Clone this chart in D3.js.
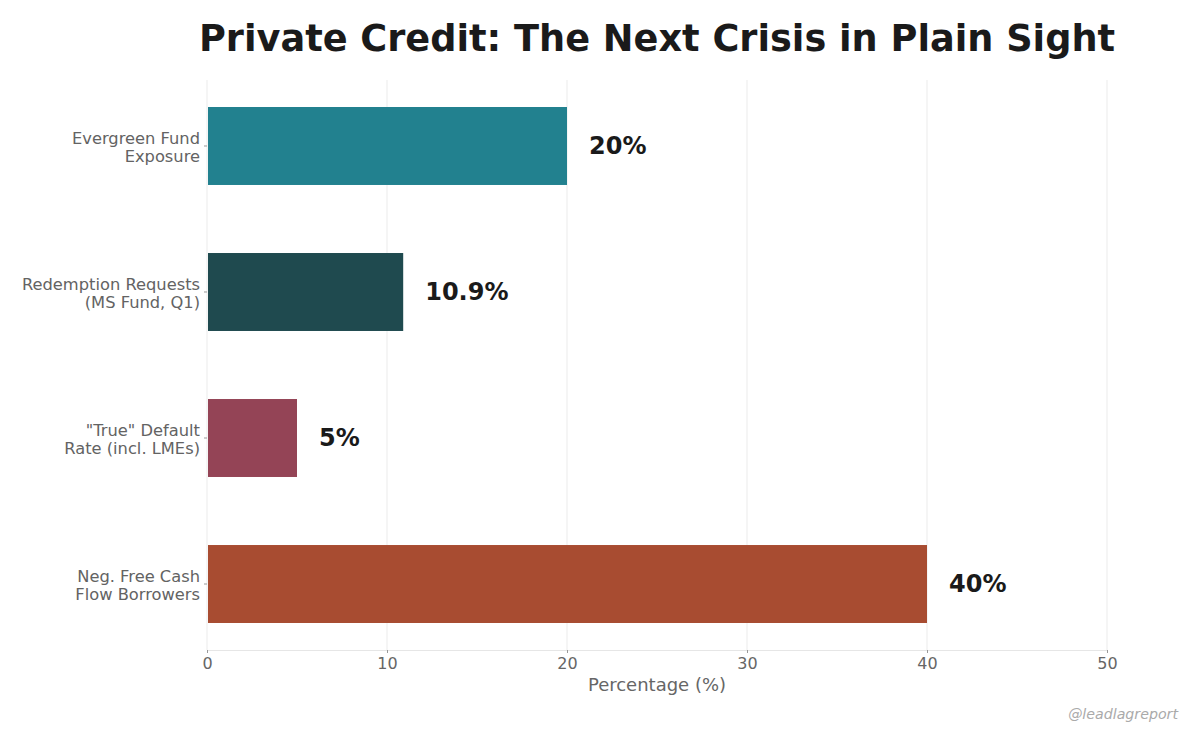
<!DOCTYPE html>
<html><head><meta charset="utf-8">
<script src="https://cdn.jsdelivr.net/npm/d3@7"></script>
<style>body{margin:0;background:#fff;}svg{display:block;font-family:"DejaVu Sans",sans-serif;}</style>
</head><body><svg id="c" width="1200" height="743"></svg>
<script>
const categories = [["Evergreen Fund","Exposure"],["Redemption Requests","(MS Fund, Q1)"],["\"True\" Default","Rate (incl. LMEs)"],["Neg. Free Cash","Flow Borrowers"]];
const values = [20, 10.9, 5, 40];
const valueLabels = ["20%","10.9%","5%","40%"];
const colors = ["#22818f","#1f4a4f","#944456","#a84c31"];
const xTicks = [0,10,20,30,40,50];

const svg = d3.select("#c");
const L=207,R=1107,T=80,B=650;
const x = d3.scaleLinear().domain([0,50]).range([L,R]);
const keys = categories.map(c=>c.join(" "));
const y = d3.scaleBand().domain(keys).range([T,B]).paddingInner(0.466).paddingOuter(0.185);

// grid
svg.append("g").selectAll("line").data(xTicks).join("line")
  .attr("x1",d=>x(d)).attr("x2",d=>x(d)).attr("y1",T).attr("y2",B)
  .attr("stroke","#ebebeb").attr("stroke-width",1);

// bars
svg.append("g").selectAll("rect").data(values).join("rect")
  .attr("x",x(0)+1).attr("y",(d,i)=>y(keys[i]))
  .attr("width",d=>x(d)-x(0)-1).attr("height",y.bandwidth())
  .attr("fill",(d,i)=>colors[i]);

// value labels
svg.append("g").selectAll("text").data(values).join("text")
  .attr("x",d=>x(d)+22).attr("y",(d,i)=>y(keys[i])+y.bandwidth()/2)
  .attr("dy","0.35em").attr("font-size",24).attr("font-weight","bold").attr("fill","#1a1a1a")
  .text((d,i)=>valueLabels[i]);

// x axis
const xa = svg.append("g").attr("transform",`translate(0,${B})`)
  .call(d3.axisBottom(x).tickValues(xTicks).tickSize(3).tickPadding(5));
xa.select(".domain").attr("stroke","#e6e6e6");
xa.selectAll(".tick line").attr("stroke","#999");
xa.selectAll(".tick text").attr("fill","#666").attr("font-size",16).attr("font-family","DejaVu Sans");

// y axis
const ya = svg.append("g").attr("transform",`translate(${L},0)`)
  .call(d3.axisLeft(y).tickSize(3).tickPadding(5).tickFormat(""));
ya.select(".domain").remove();
ya.selectAll(".tick line").attr("stroke","#999");
ya.selectAll(".tick").each(function(d,i){
  const t = d3.select(this).append("text").attr("x",-7).attr("text-anchor","end")
    .attr("fill","#636363").attr("font-size",16.3).attr("font-family","DejaVu Sans");
  const lines = categories[i];
  lines.forEach((s,j)=>{
    t.append("tspan").attr("x",-7).attr("y",1.5+(j-(lines.length-1)/2)*18).attr("dy","0.35em").text(s);
  });
});

// axis title
svg.append("text").attr("x",(L+R)/2).attr("y",691).attr("text-anchor","middle")
  .attr("font-size",18).attr("fill","#666").text("Percentage (%)");

// title
svg.append("text").attr("x",(L+R)/2).attr("y",51).attr("text-anchor","middle")
  .attr("font-size",36.7).attr("font-weight","bold").attr("fill","#1a1a1a")
  .text("Private Credit: The Next Crisis in Plain Sight");

// watermark
svg.append("text").attr("x",1178).attr("y",719).attr("text-anchor","end")
  .attr("font-size",14.2).attr("font-style","italic").attr("fill","#aaa").text("@leadlagreport");
</script></body></html>
